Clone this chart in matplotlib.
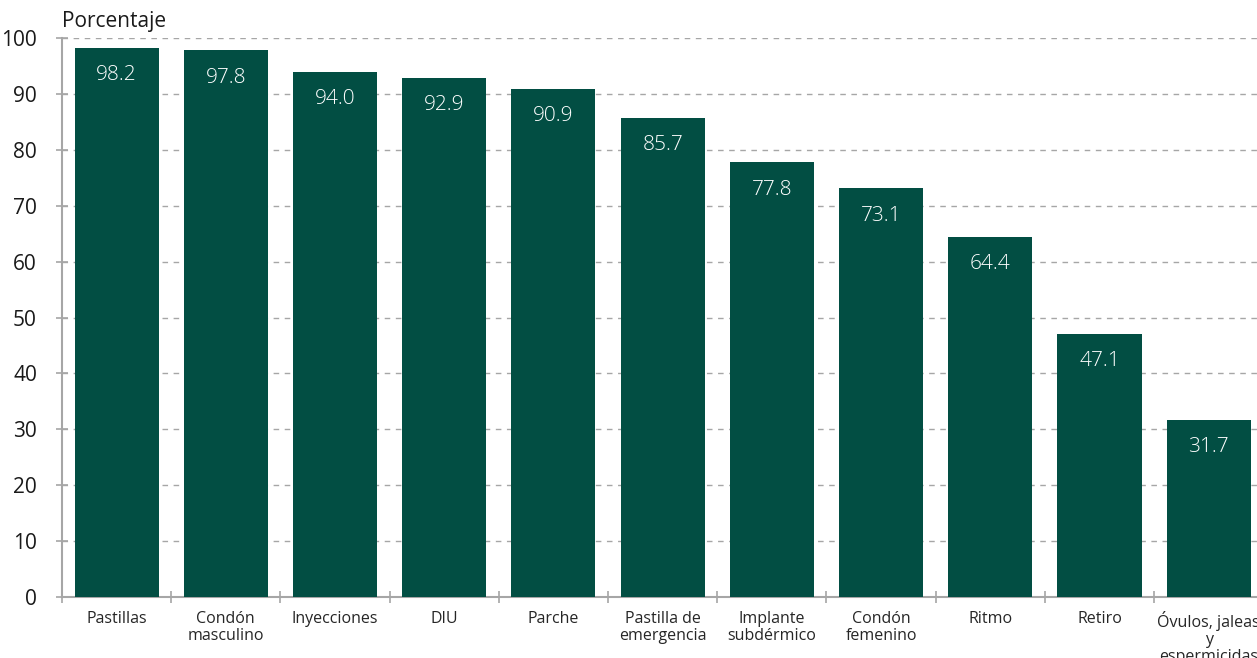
import numpy as np
import matplotlib.pyplot as plt

plt.rcParams['font.family'] = ['Open Sans', 'DejaVu Sans']

categorias = ['Pastillas', 'Condón\nmasculino', 'Inyecciones', 'DIU', 'Parche',
              'Pastilla de\nemergencia', 'Implante\nsubdérmico', 'Condón\nfemenino',
              'Ritmo', 'Retiro', 'Óvulos, jaleas\ny\nespermicidas']
porcentaje = [98.2, 97.8, 94.0, 92.9, 90.9, 85.7, 77.8, 73.1, 64.4, 47.1, 31.7]

verde = '#024E43'
gris = '#A6A6A6'

fig = plt.figure(figsize=(12.57, 6.58), dpi=100)
ax = fig.add_axes([0.0493, 0.0927, 0.9557, 0.8495])

x = np.arange(len(categorias))
ax.bar(x, porcentaje, width=0.77, color=verde, zorder=3)
for xi, v in zip(x, porcentaje):
    ax.text(xi, v - 4.9, f'{v:.1f}', ha='center', va='center',
            color='white', fontsize=15, fontweight='light', zorder=4)

ax.set_xlim(-0.5, len(categorias) - 0.5)
ax.set_ylim(0, 100)
ax.set_yticks(range(0, 101, 10))
ax.tick_params(axis='y', labelsize=15, direction='inout', length=8,
               color=gris, width=1.2, pad=14, labelcolor='#1a1a1a')
ax.yaxis.grid(True, linestyle=(0, (4, 4)), color=gris, linewidth=1)
ax.set_axisbelow(True)

ax.set_xticks(np.arange(-0.5, len(categorias), 1.0))
ax.set_xticklabels([])
ax.set_xticks(x, minor=True)
ax.set_xticklabels(categorias, minor=True, fontsize=11.5, color='#262626',
                   linespacing=1.1)
ax.tick_params(axis='x', which='major', direction='inout', length=8,
               color=gris, width=1.2)
ax.tick_params(axis='x', which='minor', length=0, pad=10)

for lado in ['top', 'right']:
    ax.spines[lado].set_visible(False)
for lado in ['left', 'bottom']:
    ax.spines[lado].set_color(gris)
    ax.spines[lado].set_linewidth(1.5)

ax.text(0.0, 1.01, 'Porcentaje', transform=ax.transAxes, fontsize=15,
        ha='left', va='bottom', color='#1a1a1a')

fig.savefig('out.png', dpi=100)
